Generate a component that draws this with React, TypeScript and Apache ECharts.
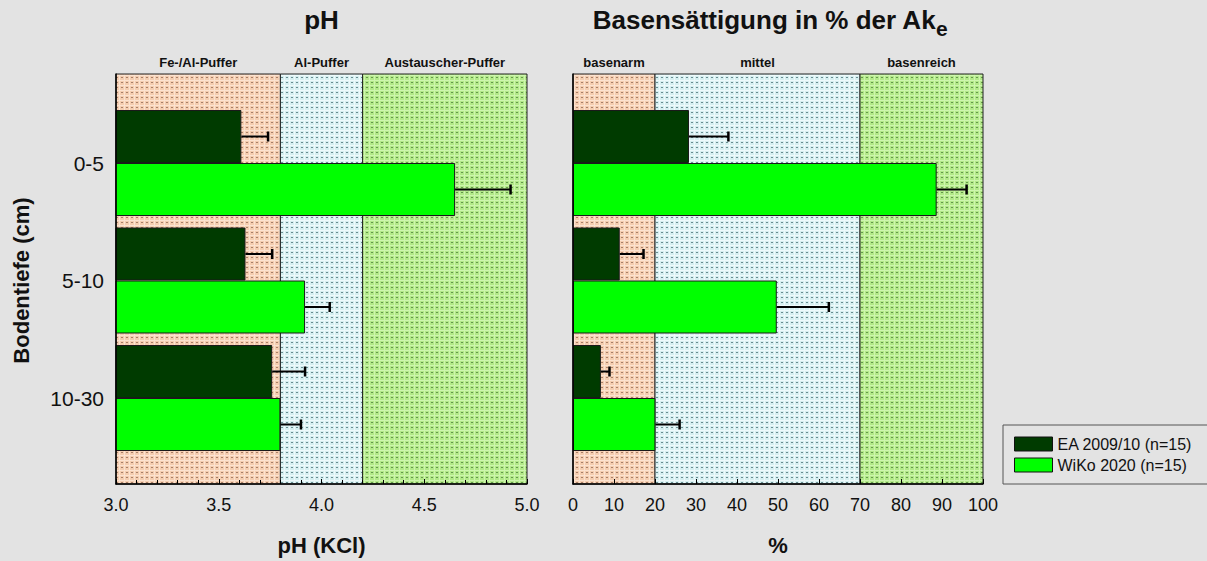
import React, { useEffect, useRef } from "react";
import * as echarts from "echarts";

// Soil depth classes (top to bottom)
const depths = ["0-5", "5-10", "10-30"];
const seriesNames = ["EA 2009/10 (n=15)", "WiKo 2020 (n=15)"];
const seriesColors = ["#003b00", "#00ff00"];

// pH (KCl): means and standard deviations
const phEA = [3.61, 3.63, 3.76];
const phEASd = [0.13, 0.13, 0.16];
const phWiKo = [4.65, 3.92, 3.8];
const phWiKoSd = [0.27, 0.12, 0.1];

// Base saturation in % of effective CEC
const bsEA = [28.3, 11.4, 6.8];
const bsEASd = [9.6, 5.8, 2.1];
const bsWiKo = [88.7, 49.7, 20.1];
const bsWiKoSd = [7.3, 12.7, 5.9];

// Buffer ranges / saturation classes
const phZoneNames = ["Fe-/Al-Puffer", "Al-Puffer", "Austauscher-Puffer"];
const phZoneBounds = [3.0, 3.8, 4.2, 5.0];
const bsZoneNames = ["basenarm", "mittel", "basenreich"];
const bsZoneBounds = [0, 20, 70, 100];

const FONT = "'Liberation Sans', Arial, Helvetica, sans-serif";
const BAR_W = 53;

const zoneColors = [
  ["#f4cdb0", "#a88068", "#fbe2cf"],
  ["#d6eff1", "#6a8d91", "#eefafb"],
  ["#b2e888", "#65984c", "#cdf5ad"],
];

function dotPattern(base: string, dot: string, light: string) {
  const c = document.createElement("canvas");
  c.width = 5;
  c.height = 5;
  const g = c.getContext("2d")!;
  g.fillStyle = base;
  g.fillRect(0, 0, 5, 5);
  g.fillStyle = light;
  g.fillRect(0, 0, 5, 1);
  g.fillRect(4, 0, 1, 5);
  g.fillStyle = dot;
  g.fillRect(1, 2, 2, 1);
  return { image: c.toDataURL(), repeat: "repeat", imageWidth: 5, imageHeight: 5 };
}

function zoneAreas(names: string[], bounds: number[]) {
  return names.map((name, i) => [
    {
      name,
      xAxis: bounds[i],
      itemStyle: {
        color: dotPattern(zoneColors[i][0], zoneColors[i][1], zoneColors[i][2]),
        borderColor: "#222",
        borderWidth: 1,
      },
    },
    { xAxis: bounds[i + 1] },
  ]);
}

function errorSeries(axisIdx: number, means: number[], sds: number[], sign: number) {
  return {
    type: "custom",
    xAxisIndex: axisIdx,
    yAxisIndex: axisIdx,
    z: 6,
    silent: true,
    data: means.map((m, i) => [i, m, m + sds[i]]),
    encode: { x: [1, 2], y: 0 },
    renderItem: (_params: any, api: any) => {
      const cat = api.value(0);
      const start = api.coord([api.value(1), cat]);
      const end = api.coord([api.value(2), cat]);
      const y = start[1] + (sign * BAR_W) / 2;
      return {
        type: "group",
        children: [
          {
            type: "line",
            shape: { x1: start[0], y1: y, x2: end[0], y2: y },
            style: { stroke: "#000", lineWidth: 2 },
          },
          {
            type: "line",
            shape: { x1: end[0], y1: y - 5, x2: end[0], y2: y + 5 },
            style: { stroke: "#000", lineWidth: 2.5 },
          },
        ],
      };
    },
  };
}

function barSeries(axisIdx: number, name: string, color: string, values: number[]) {
  return {
    type: "bar",
    name,
    xAxisIndex: axisIdx,
    yAxisIndex: axisIdx,
    barWidth: BAR_W,
    barGap: "0%",
    z: 4,
    data: values,
    itemStyle: { color, borderColor: "#1a1a1a", borderWidth: 1 },
  };
}

export default function App() {
  const ref = useRef<HTMLDivElement>(null);

  useEffect(() => {
    const chart = echarts.init(ref.current!, undefined, { renderer: "svg" });

    const plotTop = 74;
    const plotH = 411;
    const barTop = 104.25;
    const barH = 352.5;
    const grids = [
      { left: 116, top: plotTop, width: 411, height: plotH },
      { left: 573, top: plotTop, width: 410, height: plotH },
      { left: 116, top: barTop, width: 411, height: barH },
      { left: 573, top: barTop, width: 410, height: barH },
    ];

    const axisLabel = { fontFamily: FONT, fontSize: 18, color: "#111" };
    const nameStyle = { fontFamily: FONT, fontSize: 22, fontWeight: "bold", color: "#111" };

    const frameX = (min: number, max: number, interval: number, name: string, minor: boolean, fmt: (v: number) => string) => ({
      type: "value",
      min,
      max,
      interval,
      name,
      nameLocation: "middle",
      nameGap: 50,
      nameTextStyle: nameStyle,
      z: 10,
      axisLine: { show: true, lineStyle: { color: "#000", width: 1.5 } },
      axisTick: { show: true, inside: true, length: 5, lineStyle: { color: "#000", width: 1 } },
      minorTick: { show: minor, splitNumber: 5, length: 4, lineStyle: { color: "#000", width: 1 } },
      splitLine: { show: false },
      axisLabel: { ...axisLabel, margin: 12, formatter: fmt },
    });

    const frameY = {
      type: "value",
      min: 0,
      max: 1,
      z: 10,
      axisLine: { show: true, onZero: false, lineStyle: { color: "#000", width: 1.5 } },
      axisTick: { show: false },
      axisLabel: { show: false },
      splitLine: { show: false },
    };

    const hiddenX = (min: number, max: number, gridIndex: number) => ({
      type: "value",
      gridIndex,
      min,
      max,
      show: false,
    });

    const zoneLabel = {
      show: true,
      position: "top",
      distance: 5,
      fontFamily: FONT,
      fontSize: 13,
      fontWeight: "bold",
      color: "#111",
    };

    chart.setOption({
      animation: false,
      backgroundColor: "#e3e3e3",
      textStyle: { fontFamily: FONT },
      grid: grids,
      xAxis: [
        { ...frameX(3, 5, 0.5, "pH (KCl)", true, (v: number) => v.toFixed(1)), gridIndex: 0 },
        { ...frameX(0, 100, 10, "%", false, (v: number) => String(v)), gridIndex: 1 },
        hiddenX(3, 5, 2),
        hiddenX(0, 100, 3),
      ],
      yAxis: [
        { ...frameY, gridIndex: 0 },
        { ...frameY, gridIndex: 1 },
        {
          type: "category",
          gridIndex: 2,
          data: depths,
          inverse: true,
          name: "Bodentiefe (cm)",
          nameLocation: "middle",
          nameRotate: 90,
          nameGap: 84,
          nameTextStyle: nameStyle,
          axisLine: { show: false },
          axisTick: { show: false },
          axisLabel: { ...axisLabel, fontSize: 21, margin: 12 },
        },
        {
          type: "category",
          gridIndex: 3,
          data: depths,
          inverse: true,
          axisLine: { show: false },
          axisTick: { show: false },
          axisLabel: { show: false },
        },
      ],
      legend: {
        data: seriesNames,
        orient: "vertical",
        left: 1003,
        top: 425,
        padding: [11, 16, 11, 11],
        itemGap: 5,
        itemWidth: 38,
        itemHeight: 14,
        icon: "rect",
        borderColor: "#555",
        borderWidth: 1,
        backgroundColor: "#e3e3e3",
        itemStyle: { borderColor: "#111", borderWidth: 1 },
        textStyle: { fontFamily: FONT, fontSize: 16, color: "#111" },
      },
      graphic: [
        {
          type: "text",
          x: 321.5,
          y: 20,
          style: {
            text: "pH",
            align: "center",
            verticalAlign: "middle",
            font: `bold 26px ${FONT}`,
            fill: "#111",
          },
        },
        {
          type: "text",
          x: 770,
          y: 20,
          style: {
            text: "{m|Basensättigung in % der Ak}{s|e}",
            align: "center",
            verticalAlign: "middle",
            rich: {
              m: { font: `bold 26px ${FONT}`, fill: "#111", verticalAlign: "middle" },
              s: { font: `bold 21px ${FONT}`, fill: "#111", padding: [16, 0, 0, 0] },
            },
          },
        },
      ],
      series: [
        {
          type: "line",
          xAxisIndex: 0,
          yAxisIndex: 0,
          data: [],
          silent: true,
          markArea: { silent: true, label: zoneLabel, data: zoneAreas(phZoneNames, phZoneBounds) },
        },
        {
          type: "line",
          xAxisIndex: 1,
          yAxisIndex: 1,
          data: [],
          silent: true,
          markArea: { silent: true, label: zoneLabel, data: zoneAreas(bsZoneNames, bsZoneBounds) },
        },
        barSeries(2, seriesNames[0], seriesColors[0], phEA),
        barSeries(2, seriesNames[1], seriesColors[1], phWiKo),
        barSeries(3, seriesNames[0], seriesColors[0], bsEA),
        barSeries(3, seriesNames[1], seriesColors[1], bsWiKo),
        errorSeries(2, phEA, phEASd, -1),
        errorSeries(2, phWiKo, phWiKoSd, 1),
        errorSeries(3, bsEA, bsEASd, -1),
        errorSeries(3, bsWiKo, bsWiKoSd, 1),
      ],
    });

    return () => chart.dispose();
  }, []);

  return (
    <div
      ref={ref}
      style={{ position: "fixed", left: 0, top: 0, width: 1207, height: 561, background: "#e3e3e3" }}
    />
  );
}
